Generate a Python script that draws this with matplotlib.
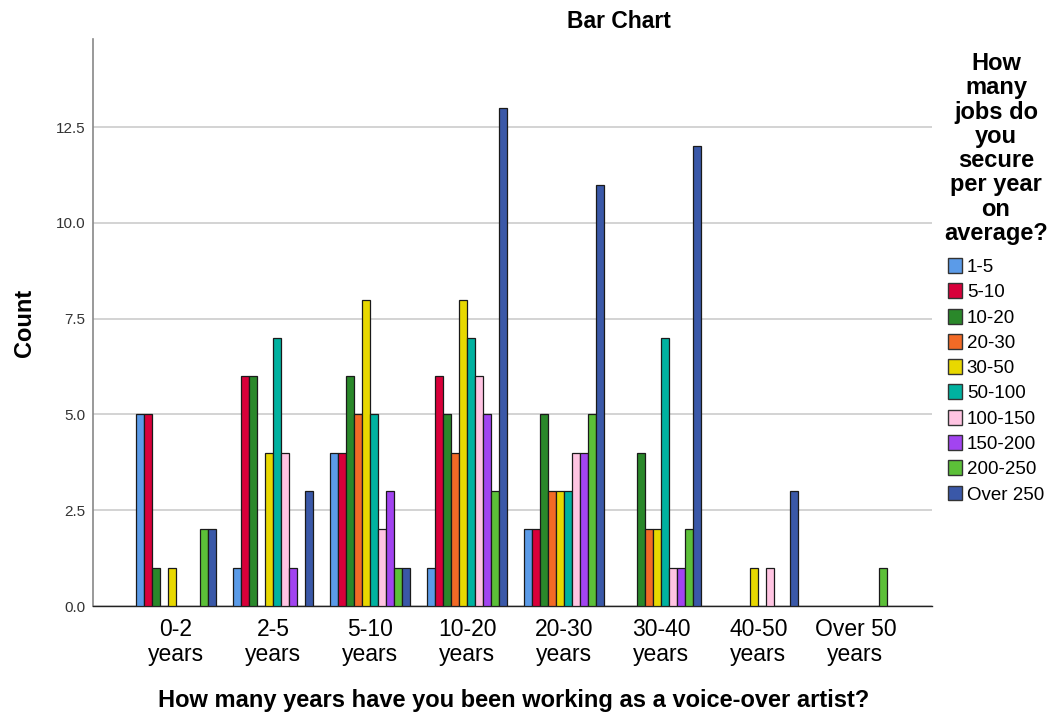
import matplotlib
matplotlib.use("Agg")
import matplotlib.pyplot as plt
from matplotlib.patches import Patch
import numpy as np

plt.rcParams['font.family'] = ['Liberation Sans', 'DejaVu Sans']

categories = ["0-2\nyears", "2-5\nyears", "5-10\nyears", "10-20\nyears",
              "20-30\nyears", "30-40\nyears", "40-50\nyears", "Over 50\nyears"]
series_names = ["1-5", "5-10", "10-20", "20-30", "30-50", "50-100",
                "100-150", "150-200", "200-250", "Over 250"]

s_1_5     = [5, 1, 4, 1, 2, 0, 0, 0]
s_5_10    = [5, 6, 4, 6, 2, 0, 0, 0]
s_10_20   = [1, 6, 6, 5, 5, 4, 0, 0]
s_20_30   = [0, 0, 5, 4, 3, 2, 0, 0]
s_30_50   = [1, 4, 8, 8, 3, 2, 1, 0]
s_50_100  = [0, 7, 5, 7, 3, 7, 0, 0]
s_100_150 = [0, 4, 2, 6, 4, 1, 1, 0]
s_150_200 = [0, 1, 3, 5, 4, 1, 0, 0]
s_200_250 = [2, 0, 1, 3, 5, 2, 0, 1]
s_over250 = [2, 3, 1, 13, 11, 12, 3, 0]

series = [s_1_5, s_5_10, s_10_20, s_20_30, s_30_50, s_50_100,
          s_100_150, s_150_200, s_200_250, s_over250]
colors = ["#5b9be8", "#d8003a", "#2a882a", "#f26a26", "#e8d800",
          "#00b2a0", "#ffc4e2", "#a244f0", "#5cc038", "#3a58a8"]

fig = plt.figure(figsize=(10.55, 7.16), dpi=100)
ax = fig.add_axes([93/1055, 1-606/716, (932-93)/1055, (606-39)/716])

x = np.arange(len(categories))
w = 0.0825
n = len(series)
for j, (vals, c) in enumerate(zip(series, colors)):
    off = (j - (n - 1) / 2) * w
    xs = [xi + off for xi, v in zip(x, vals) if v > 0]
    hs = [v for v in vals if v > 0]
    ax.bar(xs, hs, width=w, color=c, edgecolor="#1a1a1a", linewidth=0.9, zorder=3)

ax.set_xlim(-0.856, 7.79)
ax.set_ylim(0, 14.8)
ax.set_yticks([0, 2.5, 5, 7.5, 10, 12.5])
ax.set_yticklabels(["0.0", "2.5", "5.0", "7.5", "10.0", "12.5"], fontsize=11, color="#333333")
ax.set_xticks(x)
ax.set_xticklabels(categories, fontsize=16.5, linespacing=1.08)
ax.tick_params(axis='x', length=0, pad=9)
ax.tick_params(axis='y', length=0, pad=5.5)
ax.yaxis.grid(True, color="#cccccc", linewidth=1.2, zorder=0)
ax.set_axisbelow(True)
for s in ["top", "right"]:
    ax.spines[s].set_visible(False)
ax.spines["left"].set_color("#888888")
ax.spines["left"].set_linewidth(1.2)
ax.spines["bottom"].set_color("#222222")
ax.spines["bottom"].set_linewidth(1.0)

ax.set_ylabel("Count", fontsize=17, fontweight="bold")
ax.yaxis.set_label_coords((36-93)/(932-93), 0.5)
fig.text(514/1055, 1-701/716, "How many years have you been working as a voice-over artist?",
         ha="center", va="center", fontsize=17, fontweight="bold")
fig.text(619/1055, 1-21/716, "Bar Chart", ha="center", va="center",
         fontsize=16.5, fontweight="bold")

fig.text(996/1055, 1-52/716, "How\nmany\njobs do\nyou\nsecure\nper year\non\naverage?",
         ha="center", va="top", multialignment="center", fontsize=17,
         fontweight="bold", linespacing=1.07)

handles = [Patch(facecolor=c, edgecolor="#333333", linewidth=1.0) for c in colors]
leg = fig.legend(handles, series_names, loc="upper left",
                 bbox_to_anchor=(948/1055, 1-258/716),
                 fontsize=13.5, frameon=False, handlelength=0.75, handleheight=0.85,
                 handletextpad=0.25, labelspacing=0.39, borderpad=0,
                 borderaxespad=0)

fig.savefig("out.png", dpi=100)
